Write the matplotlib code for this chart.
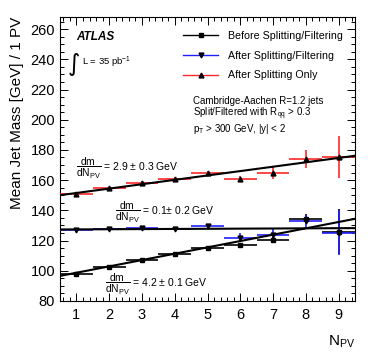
import numpy as np
import matplotlib
matplotlib.use("Agg")
import matplotlib.pyplot as plt
from matplotlib.lines import Line2D
from matplotlib.ticker import MultipleLocator

plt.rcParams['font.family'] = ['Liberation Sans', 'DejaVu Sans']
plt.rcParams['mathtext.fontset'] = 'custom'
plt.rcParams['mathtext.rm'] = 'Liberation Sans'
plt.rcParams['mathtext.it'] = 'Liberation Sans:italic'
plt.rcParams['mathtext.bf'] = 'Liberation Sans:bold'

# ---- data ----
npv = [1, 2, 3, 4, 5, 6, 7, 8, 9]
before_vals = [98.0, 102.3, 107.2, 110.8, 115.2, 117.0, 120.6, 134.5, 126.0]
before_err = [1.0, 1.0, 1.0, 1.0, 1.2, 1.5, 2.0, 3.0, 15.0]
after_vals = [127.2, 127.6, 128.2, 127.8, 129.5, 121.8, 123.8, 132.8, 125.2]
after_err = [1.0, 1.0, 1.0, 1.0, 1.2, 3.0, 4.0, 4.0, 15.0]
split_vals = [150.8, 154.6, 158.4, 160.6, 164.6, 160.6, 164.6, 174.0, 175.5]
split_err = [1.0, 1.0, 1.2, 1.2, 1.5, 2.0, 4.0, 6.0, 14.0]
bin_halfwidth = 0.5

# linear fit parameters (intercept, slope)
fit_before = (94.5, 4.2)
fit_after = (127.3, 0.1)
fit_split = (148.6, 2.9)

labels = ["Before Splitting/Filtering", "After Splitting/Filtering", "After Splitting Only"]
colors = ["black", "#2020ff", "#ff2828"]
markers = ["s", "v", "^"]

fig = plt.figure(figsize=(3.74, 3.59), dpi=100)
ax = fig.add_axes([60/374, 1-301/359, 295/374, 284/359])

xlim = (0.5, 9.5)
series = [(before_vals, before_err), (after_vals, after_err), (split_vals, split_err)]
for (vals, errs), c, m in zip(series, colors, markers):
    ax.errorbar(npv, vals, yerr=errs, xerr=bin_halfwidth, fmt=m, color='black',
                ecolor=c, elinewidth=1.2, capsize=0, markersize=3.5, zorder=3)

xf = np.array(xlim)
for (b0, b1) in [fit_before, fit_after, fit_split]:
    ax.plot(xf, b0 + b1*xf, color='black', lw=1.5, zorder=4)

ax.set_xlim(*xlim)
ax.set_ylim(80, 268)
ax.xaxis.set_major_locator(MultipleLocator(1))
ax.xaxis.set_minor_locator(MultipleLocator(0.2))
ax.yaxis.set_major_locator(MultipleLocator(20))
ax.yaxis.set_minor_locator(MultipleLocator(5))
ax.tick_params(which='both', direction='in', top=True, right=True, labelsize=10.5)
ax.tick_params(which='major', length=6, width=0.7)
ax.tick_params(which='minor', length=3, width=0.7)
ax.tick_params(axis='x', pad=5)
for s in ax.spines.values():
    s.set_linewidth(0.8)

ax.set_ylabel("Mean Jet Mass [GeV] / 1 PV", fontsize=11, loc='top', labelpad=5)
fig.text(355/374, 1-342/359, r"N$_{\mathrm{PV}}$", fontsize=11, ha='right', va='center')

# legend
handles = [Line2D([], [], color=c, marker=m, markerfacecolor='black', markeredgecolor='black',
                  markersize=3.5, lw=1.0) for c, m in zip(colors, markers)]
fig.legend(handles, labels, loc='upper left', bbox_to_anchor=(183/374, 1-31/359),
           frameon=False, fontsize=7.7, handlelength=3.3, handletextpad=0.9,
           labelspacing=0.9, borderaxespad=0, borderpad=0)

fig.text(76/374, 1-37/359, "ATLAS", fontsize=8.5, fontweight='bold', fontstyle='italic',
         va='center', ha='left')
fig.text(68/374, 1-64/359, "\u222b", fontsize=17, family='DejaVu Sans', va='center', ha='left')
fig.text(82/374, 1-62/359, r"L = 35 pb$^{-1}$", fontsize=6.8, va='center', ha='left')

fig.text(193/374, 1-101/359, "Cambridge-Aachen R=1.2 jets", fontsize=7, va='center', ha='left')
fig.text(193/374, 1-114/359, r"Split/Filtered with R$_{\mathrm{qq}}$ > 0.3", fontsize=7, va='center', ha='left')
fig.text(193/374, 1-129/359, r"p$_{\mathrm{T}}$ > 300 GeV, |y| < 2", fontsize=7, va='center', ha='left')

frac = r"$\dfrac{\mathrm{dm}}{\mathrm{dN}_{\mathrm{PV}}}$"
fig.text(76/374, 1-168/359, frac + " = 2.9 \u00b1 0.3 GeV", fontsize=7.5, va='center', ha='left')
fig.text(115/374, 1-212/359, frac + " = 0.1\u00b1 0.2 GeV", fontsize=7.5, va='center', ha='left')
fig.text(105/374, 1-284/359, frac + " = 4.2 \u00b1 0.1 GeV", fontsize=7.5, va='center', ha='left')

fig.savefig("out.png", dpi=100)
